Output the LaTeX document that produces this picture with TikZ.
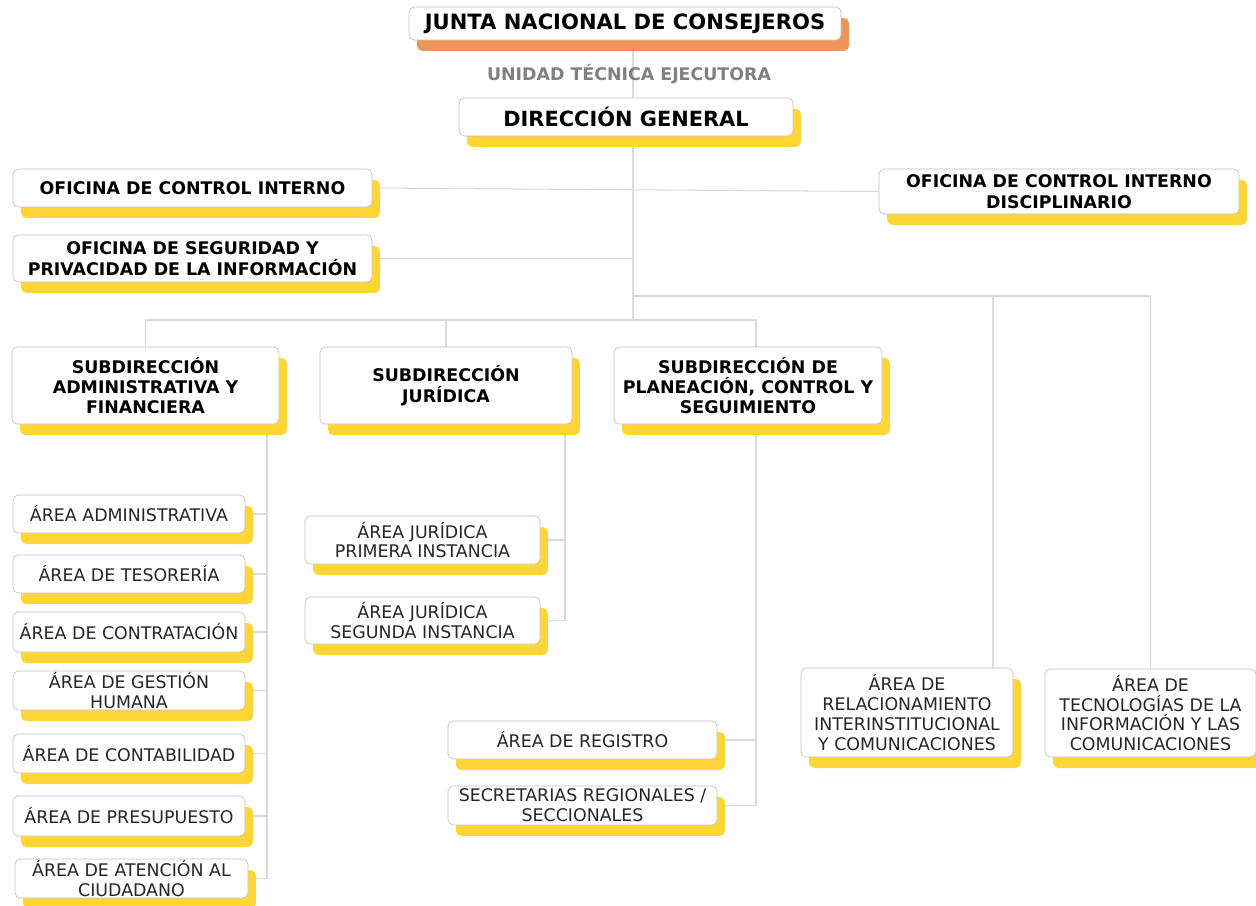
\documentclass[tikz,border=0pt]{standalone}
\usepackage{fontspec}
\setmainfont{DejaVu Sans}
\usetikzlibrary{shadows,backgrounds}

\definecolor{amarillo}{HTML}{FDD535}
\definecolor{naranja}{HTML}{F0955A}
\definecolor{borde}{HTML}{C2C2C2}
\definecolor{conector}{HTML}{D9D9D9}

\tikzset{
  caja/.style={draw=borde, fill=white, rounded corners=3pt, inner sep=0pt, align=center},
  sombra/.style={general shadow={fill=#1, shadow xshift=0.16cm, shadow yshift=-0.22cm}},
  tam/.style 2 args={minimum width=#1*0.02cm, minimum height=#2*0.02cm},
  jefe/.style={caja, sombra=amarillo, font=\bfseries\fontsize{9.9}{11.6}\selectfont},
  area/.style={caja, sombra=amarillo, text=black!85, font=\fontsize{9.9}{11.3}\selectfont},
  linea/.style={draw=conector, line width=0.6pt}
}

\begin{document}
\begin{tikzpicture}[x=0.02cm, y=-0.02cm]
  \useasboundingbox (0,0) rectangle (1256,905);

  % cabeza
  \node[caja, sombra=naranja, tam={432}{33}, font=\bfseries\fontsize{12}{13}\selectfont] (junta) at (625,23.5) {JUNTA NACIONAL DE CONSEJEROS};
  \node[text=black!50, font=\bfseries\fontsize{9.9}{11}\selectfont] (ute) at (629,74) {UNIDAD TÉCNICA EJECUTORA};
  \node[jefe, tam={334}{38}, font=\bfseries\fontsize{11.9}{13}\selectfont] (dg) at (626,117) {DIRECCIÓN GENERAL};

  % oficinas
  \node[jefe, tam={359}{38}] (oci) at (192.5,188) {OFICINA DE CONTROL INTERNO};
  \node[jefe, tam={359}{47}] (osi) at (192.5,258.5) {OFICINA DE SEGURIDAD Y\\PRIVACIDAD DE LA INFORMACIÓN};
  \node[jefe, tam={360}{45}] (ocid) at (1059,191.5) {OFICINA DE CONTROL INTERNO\\DISCIPLINARIO};

  % subdirecciones
  \node[jefe, tam={267}{77}] (sadm) at (145.5,385.5) {SUBDIRECCIÓN\\ADMINISTRATIVA Y\\FINANCIERA};
  \node[jefe, tam={252}{77}] (sjur) at (446,385.5) {SUBDIRECCIÓN\\JURÍDICA};
  \node[jefe, tam={268}{77}] (spla) at (748,385.5) {SUBDIRECCIÓN DE\\PLANEACIÓN, CONTROL Y\\SEGUIMIENTO};

  % areas administrativa y financiera
  \node[area, tam={232}{38}] (aadm) at (129,514) {ÁREA ADMINISTRATIVA};
  \node[area, tam={232}{38}] (ates) at (129,574) {ÁREA DE TESORERÍA};
  \node[area, tam={232}{40}] (acon) at (129,632) {ÁREA DE CONTRATACIÓN};
  \node[area, tam={232}{39}] (ages) at (129,690.5) {ÁREA DE GESTIÓN\\HUMANA};
  \node[area, tam={232}{39}] (acnt) at (129,753.5) {ÁREA DE CONTABILIDAD};
  \node[area, tam={232}{40}] (apre) at (129,816) {ÁREA DE PRESUPUESTO};
  \node[area, tam={233}{39}] (aate) at (131.5,878.5) {ÁREA DE ATENCIÓN AL\\CIUDADANO};

  % areas juridicas
  \node[area, tam={235}{48}] (jur1) at (422.5,540) {ÁREA JURÍDICA\\PRIMERA INSTANCIA};
  \node[area, tam={235}{47}] (jur2) at (422.5,620.5) {ÁREA JURÍDICA\\SEGUNDA INSTANCIA};

  % areas de planeacion
  \node[area, tam={269}{38}] (areg) at (582.5,740) {ÁREA DE REGISTRO};
  \node[area, tam={269}{39}] (asec) at (582.5,805.5) {SECRETARIAS REGIONALES /\\SECCIONALES};

  % areas de la direccion
  \node[area, tam={212}{89}] (arel) at (907,712.5) {ÁREA DE\\RELACIONAMIENTO\\INTERINSTITUCIONAL\\Y COMUNICACIONES};
  \node[area, tam={211}{88}] (atec) at (1150.5,713) {ÁREA DE\\TECNOLOGÍAS DE LA\\INFORMACIÓN Y LAS\\COMUNICACIONES};

  \coordinate (t1) at (633,296);
  \coordinate (t2) at (633,320);
  \coordinate (ejeA) at (267,430);
  \coordinate (ejeJ) at (565,430);
  \coordinate (ejeP) at (756,430);
  \coordinate (ejeR) at (993,430);

  \begin{pgfonlayer}{background}
    \draw[linea] (junta.south -| t2) -- (t2);
    \draw[linea] (oci.east) -- (ocid.west);
    \draw[linea] (osi.east) -- (osi.east -| t1);
    \draw[linea] (t1) -| (ejeR |- arel.north);
    \draw[linea] (t1) -| (atec.north);
    \draw[linea] (t2) -| (sadm.north);
    \draw[linea] (t2) -| (sjur.north);
    \draw[linea] (t2) -| (ejeP |- spla.north);
    % administrativa y financiera
    \draw[linea] (sadm.south -| ejeA) |- (aate.east);
    \draw[linea] (aadm.east) -- (aadm.east -| ejeA);
    \draw[linea] (ates.east) -- (ates.east -| ejeA);
    \draw[linea] (acon.east) -- (acon.east -| ejeA);
    \draw[linea] (ages.east) -- (ages.east -| ejeA);
    \draw[linea] (acnt.east) -- (acnt.east -| ejeA);
    \draw[linea] (apre.east) -- (apre.east -| ejeA);
    % juridica
    \draw[linea] (sjur.south -| ejeJ) |- (jur2.east);
    \draw[linea] (jur1.east) -- (jur1.east -| ejeJ);
    % planeacion
    \draw[linea] (spla.south -| ejeP) |- (asec.east);
    \draw[linea] (areg.east) -- (areg.east -| ejeP);
  \end{pgfonlayer}
\end{tikzpicture}
\end{document}
